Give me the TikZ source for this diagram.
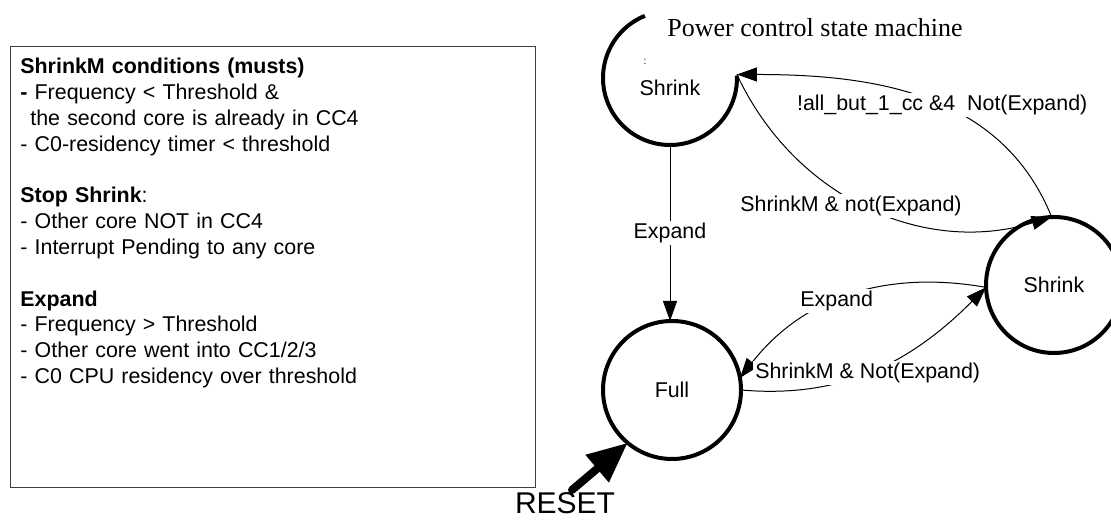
\documentclass[tikz,border=0pt]{standalone}
\usepackage{fontspec}
\setmainfont{Liberation Sans}
\newfontfamily\titlefont{Liberation Serif}
\usetikzlibrary{arrows.meta,positioning}

\newcommand\statefont{\fontsize{10.7}{12.9}\selectfont}

\tikzset{
  state/.style={circle, draw, line width=2pt, inner sep=0pt, outer sep=0pt, font=\statefont},
  trans/.style={line width=.5pt, -{Triangle[length=10pt,width=7pt]}},
  cond/.style={fill=white, inner sep=1pt, font=\statefont},
}

\begin{document}
\begin{tikzpicture}[x=.5pt, y=.5pt]

\clip (0,0) rectangle (1111,522);

\node [draw=black!75, line width=.7pt, anchor=north west, minimum width=262.5pt, minimum height=220.5pt, inner sep=0pt] (condbox) at (10,476) {};
\node [below right=6pt and 5pt of condbox.north west, align=left, text width=258pt, inner sep=0pt, font=\statefont] (condtext) {%
  \textbf{ShrinkM conditions (musts)}\\
  \textbf{-} Frequency < Threshold \&\\
  \hspace*{5pt}the second core is already in CC4\\
  - C0-residency timer < threshold\\[12.9pt]
  \textbf{Stop Shrink}:\\
  - Other core NOT in CC4\\
  - Interrupt Pending to any core\\[12.9pt]
  \textbf{Expand}\\
  - Frequency > Threshold\\
  - Other core went into CC1/2/3\\
  - C0 CPU residency over threshold};

\node [anchor=base, font=\titlefont\fontsize{13}{15}\selectfont] (title) at (815,485) {Power control state machine};

\node [state, draw=none, minimum size=67pt, label={[yshift=-5pt, font=\statefont]center:Shrink}] (S1) at (670,444) {};
\draw [line width=2pt] (S1.112) arc [start angle=112, end angle=362, radius=33.5pt];
\node [font=\fontsize{5}{5}\selectfont, inner sep=0pt] (mark) at (645,460) {:};

\node [state, minimum size=68pt] (R) at (1054,237) {Shrink};
\node [state, minimum size=69pt] (Full) at (672,132) {Full};

\draw [trans] (S1.south) -- (S1.south |- Full.north) node [cond, midway] {Expand};
\draw [trans] (R.92) to [out=112, in=0] node [cond, pos=.45] {!all\_but\_1\_cc \&4\ \ Not(Expand)} (S1.3);
\draw [trans] (S1.3) to [out=-65, in=197] node [cond, pos=.45, yshift=-4pt] {ShrinkM \& not(Expand)} (R.92);
\draw [trans] (R.182) to [out=170, in=52] node [cond, pos=.55] {Expand} (Full.10);
\draw [trans] (Full.0) to [out=-5, in=225] node [cond, pos=.47] {ShrinkM \& Not(Expand)} (R.182);

\node [font=\fontsize{15}{18}\selectfont] (rst) at (565,19) {RESET};
\coordinate (rsttail) at (572,32);
\draw [line width=4pt, line cap=round, -{Triangle[length=20pt,width=17pt]}] (rsttail) -- (Full.230);

\end{tikzpicture}
\end{document}
